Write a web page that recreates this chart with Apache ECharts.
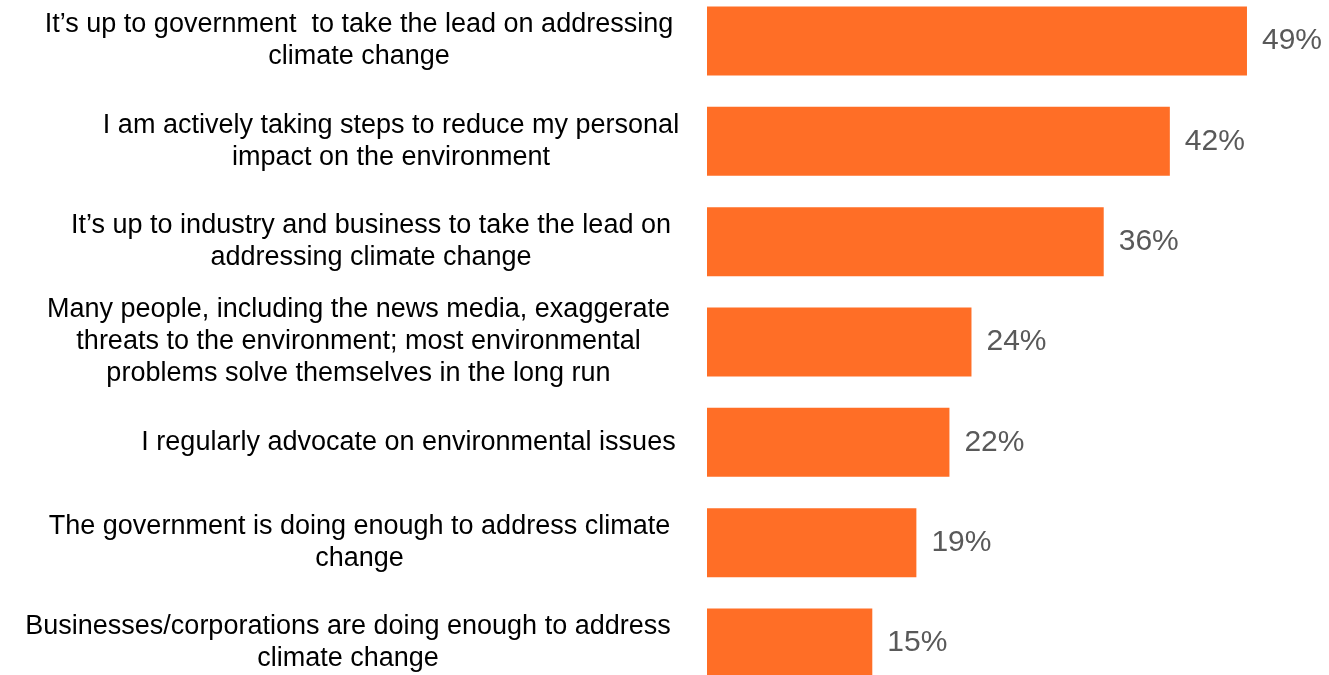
<!DOCTYPE html>
<html>
<head>
<meta charset="utf-8">
<script src="https://cdn.jsdelivr.net/npm/echarts@6/dist/echarts.min.js"></script>
<style>
  html, body { margin: 0; padding: 0; background: #fff; }
  #chart { width: 1329px; height: 675px; }
</style>
</head>
<body>
<div id="chart"></div>
<script>
const categories = [
  'It’s up to government  to take the lead on addressing\nclimate change',
  'I am actively taking steps to reduce my personal\nimpact on the environment',
  'It’s up to industry and business to take the lead on\naddressing climate change',
  'Many people, including the news media, exaggerate\nthreats to the environment; most environmental\nproblems solve themselves in the long run',
  'I regularly advocate on environmental issues',
  'The government is doing enough to address climate\nchange',
  'Businesses/corporations are doing enough to address\nclimate change'
]
const values = [49, 42, 36, 24, 22, 19, 15]

// width of each label block, lines are centred inside it
const blockWidths = [644, 580, 620, 645, 545, 643, 666]

const labelFont = 'Liberation Sans, Arial, sans-serif'

const rich = {}
blockWidths.forEach((w, i) => {
  rich['c' + i] = {
    width: w,
    align: 'center',
    fontSize: 27,
    lineHeight: 32,
    color: '#000',
    fontFamily: labelFont
  }
})

const chart = echarts.init(document.getElementById('chart'))
const option = {
  animation: false,
  grid: {
    left: 707,
    right: 71,
    top: 41,
    bottom: 31
  },
  xAxis: {
    type: 'value',
    min: 0,
    max: 50,
    show: false
  },
  yAxis: {
    type: 'category',
    inverse: true,
    boundaryGap: false,
    data: categories,
    axisLine: { show: false },
    axisTick: { show: false },
    splitLine: { show: false },
    axisLabel: {
      margin: 26,
      align: 'right',
      fontSize: 27,
      lineHeight: 32,
      color: '#000',
      fontFamily: labelFont,
      rich: rich,
      formatter: (val, idx) => val.split('\n').map(l => '{c' + idx + '|' + l + '}').join('\n')
    }
  },
  series: [
    {
      type: 'bar',
      data: values,
      barWidth: 69,
      itemStyle: { color: '#FF6E26' },
      label: {
        show: true,
        position: 'right',
        distance: 15,
        formatter: '{c}%',
        fontSize: 30,
        color: '#595959',
        fontFamily: labelFont
      }
    }
  ]
}
chart.setOption(option)
</script>
</body>
</html>
